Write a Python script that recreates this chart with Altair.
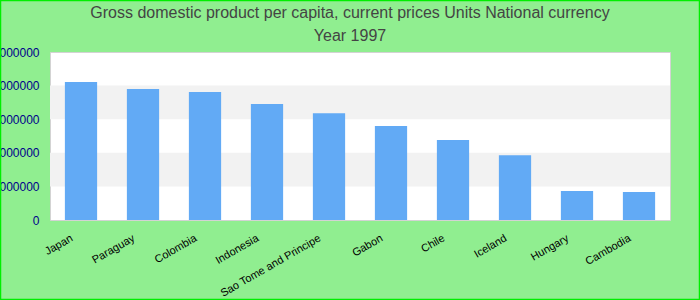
import altair as alt
import pandas as pd

countries = ["Japan", "Paraguay", "Colombia", "Indonesia", "Sao Tome and Principe",
             "Gabon", "Chile", "Iceland", "Hungary", "Cambodia"]
values = [4107000, 3900000, 3810000, 3450000, 3180000,
          2800000, 2380000, 1930000, 860000, 830000]
tick_values = [0, 1000000, 2000000, 3000000, 4000000, 5000000]
band_starts = [1000000, 3000000]
band_ends = [2000000, 4000000]
title_lines = ["Gross domestic product per capita, current prices Units National currency",
               "Year 1997"]

df = pd.DataFrame({"country": countries, "value": values})
bands = pd.DataFrame({"y": band_starts, "y2": band_ends})
frame = pd.DataFrame({"k": [0]})

FONT = "Liberation Sans"
yscale = alt.Scale(domain=[0, 5000000], nice=False, zero=True)
yaxis = alt.Axis(title=None, values=tick_values, format="d", labelColor="#00008b",
                 labelFontSize=12, labelFont=FONT, ticks=False, domain=False,
                 grid=False, labelPadding=11)

band_layer = alt.Chart(bands).mark_rect(color="#f2f2f2").encode(
    y=alt.Y("y:Q", scale=yscale, axis=yaxis),
    y2="y2:Q",
    x=alt.value(0),
    x2=alt.value(620),
)

bars = alt.Chart(df).mark_bar(color="#62aaf5").encode(
    x=alt.X("country:N", sort=None,
            scale=alt.Scale(paddingInner=0.48, paddingOuter=0.24),
            axis=alt.Axis(title=None, labelAngle=-30, labelAlign="right",
                          labelBaseline="top", labelFontSize=11, labelFont=FONT,
                          labelColor="#000000", ticks=False, domain=False,
                          labelPadding=12, labelOffset=-12)),
    y=alt.Y("value:Q", scale=yscale, axis=yaxis),
)

border = alt.Chart(frame).mark_rect(fill=None, stroke="#00ee00", strokeWidth=1.5).encode(
    x=alt.value(-49.5), x2=alt.value(649.5),
    y=alt.value(-51.5), y2=alt.value(247.5),
)

chart = alt.layer(band_layer, bars, border).properties(
    width=620,
    height=168,
    autosize=alt.AutoSizeParams(type="none"),
    padding={"left": 50, "top": 52, "right": 30, "bottom": 80},
    background="#90ee90",
    title=alt.TitleParams(text=title_lines, fontSize=16, font=FONT, color="#444444",
                          fontWeight="normal", anchor="middle", dx=-10,
                          baseline="alphabetic", lineHeight=23, offset=-57),
).configure_view(stroke="#d3d3d3", strokeWidth=1, fill="#ffffff")

chart.save("out.html", embed_options={"renderer": "svg", "actions": False})
